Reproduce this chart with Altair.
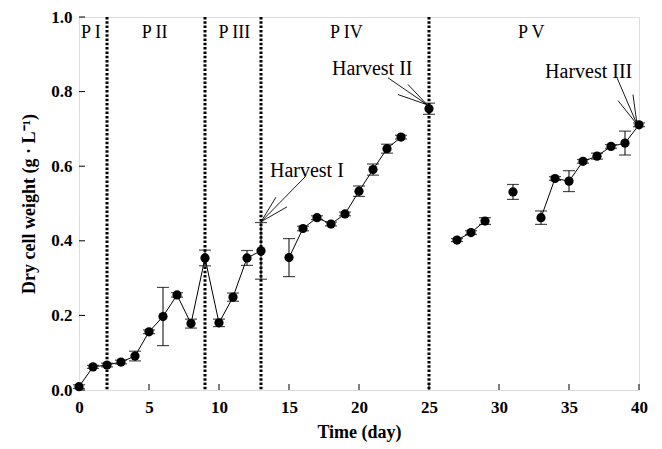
import altair as alt
import pandas as pd

# ---- data ----
days = [0, 1, 2, 3, 4, 5, 6, 7, 8, 9, 10, 11, 12, 13,
        15, 16, 17, 18, 19, 20, 21, 22, 23,
        25,
        27, 28, 29,
        31,
        33, 34, 35, 36, 37, 38, 39, 40]
dcw = [0.009, 0.062, 0.067, 0.075, 0.091, 0.156, 0.197, 0.255, 0.178, 0.354, 0.180, 0.249, 0.354, 0.373,
       0.355, 0.433, 0.462, 0.445, 0.472, 0.533, 0.591, 0.647, 0.678,
       0.754,
       0.402, 0.422, 0.453,
       0.531,
       0.462, 0.567, 0.560, 0.613, 0.627, 0.653, 0.662, 0.711]
err = [0.005, 0.004, 0.005, 0.005, 0.013, 0.005, 0.078, 0.006, 0.012, 0.021, 0.010, 0.011, 0.020, 0.076,
       0.051, 0.006, 0.005, 0.005, 0.005, 0.014, 0.015, 0.012, 0.005,
       0.015,
       0.004, 0.005, 0.009,
       0.020,
       0.018, 0.005, 0.028, 0.005, 0.008, 0.005, 0.032, 0.005]
segment = [1] * 14 + [2] * 9 + [3] + [4] * 3 + [5] + [6] * 8

phase_boundaries = [2, 9, 13, 25]
phase_labels = ["P I", "P II", "P III", "P IV", "P V"]
phase_x = [0.85, 5.4, 11.1, 19.1, 32.3]
phase_y = [0.944, 0.944, 0.944, 0.944, 0.944]

harvest_labels = ["Harvest I", "Harvest II", "Harvest III"]
harvest_text_x = [13.64, 18.07, 33.29]
harvest_text_y = [0.571, 0.845, 0.837]
# arrow segments: (x, y) -> (x2, y2)
arrow_x = [16.14, 13.0, 13.0, 22.07, 24.86, 24.86, 38.43, 39.86, 39.86]
arrow_y = [0.571, 0.451, 0.451, 0.837, 0.765, 0.765, 0.837, 0.712, 0.712]
arrow_x2 = [13.0, 14.07, 14.86, 24.86, 23.5, 22.79, 39.86, 39.57, 38.5]
arrow_y2 = [0.451, 0.517, 0.491, 0.765, 0.819, 0.792, 0.712, 0.792, 0.776]

x_ticks = [0, 5, 10, 15, 20, 25, 30, 35, 40]
y_ticks = [0.0, 0.2, 0.4, 0.6, 0.8, 1.0]

W, H = 560, 373
FONT = "Liberation Serif"

df = pd.DataFrame({"day": days, "dcw": dcw, "err": err, "seg": segment})
df["lo"] = df["dcw"] - df["err"]
df["hi"] = df["dcw"] + df["err"]

xs = alt.Scale(domain=[0, 40], nice=False, zero=False)
ys = alt.Scale(domain=[0, 1], nice=False)

xaxis = alt.Axis(values=x_ticks, ticks=False, domain=False, grid=False, labelPadding=9,
                 labelFont=FONT, labelFontSize=17, labelFontWeight="bold", labelColor="black",
                 title="Time (day)", titleFont=FONT, titleFontSize=18, titleFontWeight="bold",
                 titleColor="black", titlePadding=8, labelFlush=False)
yaxis = alt.Axis(values=y_ticks, format=".1f", ticks=False, domain=False, grid=False, labelPadding=7,
                 labelFont=FONT, labelFontSize=17, labelFontWeight="bold", labelColor="black",
                 title="Dry cell weight (g · L⁻¹)", titleFont=FONT, titleFontSize=18,
                 titleFontWeight="bold", titleColor="black", titlePadding=12)

base = alt.Chart(df)

bounds = alt.Chart(pd.DataFrame({"b": phase_boundaries})).mark_rule(
    color="black", strokeWidth=3, strokeDash=[2.5, 1.8]
).encode(x=alt.X("b:Q", scale=xs, axis=xaxis))

ebar = base.mark_rule(color="black", strokeWidth=1).encode(
    x=alt.X("day:Q", scale=xs), y=alt.Y("lo:Q", scale=ys, axis=yaxis), y2="hi:Q")
cap_lo = base.mark_tick(color="black", orient="horizontal", size=12, thickness=1.2).encode(
    x=alt.X("day:Q", scale=xs), y=alt.Y("lo:Q", scale=ys))
cap_hi = base.mark_tick(color="black", orient="horizontal", size=12, thickness=1.2).encode(
    x=alt.X("day:Q", scale=xs), y=alt.Y("hi:Q", scale=ys))

line = base.mark_line(color="black", strokeWidth=1).encode(
    x=alt.X("day:Q", scale=xs), y=alt.Y("dcw:Q", scale=ys), detail="seg:N")
pts = base.mark_circle(color="black", opacity=1, size=85).encode(
    x=alt.X("day:Q", scale=xs), y=alt.Y("dcw:Q", scale=ys))

phase = alt.Chart(pd.DataFrame({"t": phase_labels, "x": phase_x, "y": phase_y})).mark_text(
    font=FONT, fontSize=18, color="black", baseline="alphabetic", align="center"
).encode(x=alt.X("x:Q", scale=xs), y=alt.Y("y:Q", scale=ys), text="t:N")

htext = alt.Chart(pd.DataFrame({"t": harvest_labels, "x": harvest_text_x, "y": harvest_text_y})).mark_text(
    font=FONT, fontSize=20, color="black", baseline="alphabetic", align="left"
).encode(x=alt.X("x:Q", scale=xs), y=alt.Y("y:Q", scale=ys), text="t:N")

arrows = alt.Chart(pd.DataFrame({"x": arrow_x, "y": arrow_y, "x2": arrow_x2, "y2": arrow_y2})).mark_rule(
    color="black", strokeWidth=0.9
).encode(x=alt.X("x:Q", scale=xs), y=alt.Y("y:Q", scale=ys), x2="x2:Q", y2="y2:Q")

xt = alt.Chart(pd.DataFrame({"v": x_ticks})).mark_rule(color="black", strokeWidth=1).encode(
    x=alt.X("v:Q", scale=xs), y=alt.value(H), y2=alt.value(H - 6))
yt = alt.Chart(pd.DataFrame({"v": y_ticks})).mark_rule(color="black", strokeWidth=1).encode(
    y=alt.Y("v:Q", scale=ys), x=alt.value(0), x2=alt.value(6))

chart = alt.layer(bounds, ebar, cap_lo, cap_hi, line, pts, phase, htext, arrows, xt, yt).properties(
    width=W, height=H,
    autosize=alt.AutoSizeParams(type="none"),
    padding={"left": 71, "top": 9, "right": 15, "bottom": 60}
).configure_view(stroke="black", strokeWidth=2.2).configure(background="white")

chart.save("out.html", embed_options={"renderer": "svg", "actions": False})
